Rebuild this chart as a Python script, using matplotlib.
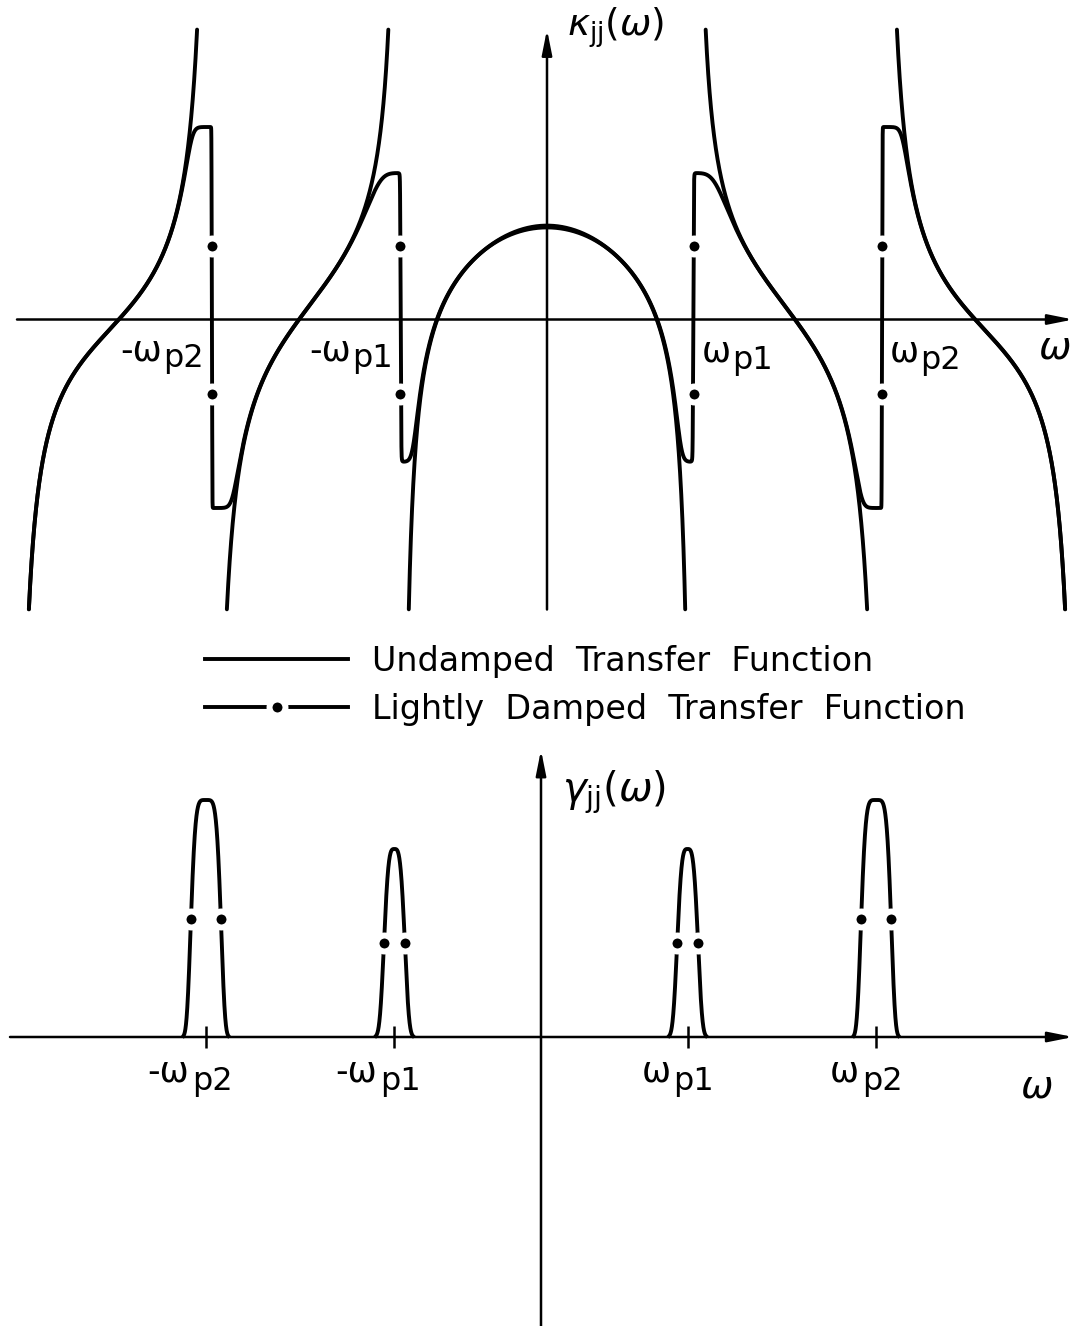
import numpy as np
import matplotlib.pyplot as plt
from matplotlib.lines import Line2D

W, H = 1074, 1326

# undamped transfer function  kappa = c + sum a_k / (w^2 - P_k)
# frequencies in units of omega_p1 (scaled), P_k are squared pole frequencies
w_p = np.array([1.011, 2.311])        # omega_p1, omega_p2
w_out = 3.668                         # next mode, just off the right edge
P_bg = -3.0                           # background term
poles = np.array([P_bg, w_p[0]**2, w_p[1]**2, w_out**2])
res = np.array([7.2637, 0.4104, 1.4112, 2.0007])
c0 = -0.6678

# lightly damped: level of the max / min reached next to each resonance
damp_hi = [1.465, 1.925]
damp_lo = [-1.425, -1.885]
damp_m = [5, 8]
damp_eps = [0.05, 0.11]
dot_level = 0.74

# imaginary part: peak heights, half widths at half height, flatness
peak_h = [1.88, 2.37]
peak_hw = [0.072, 0.103]
peak_n = [3.5, 5.0]

KMAX = 2.9


def soft_clip(v, hi, lo, m):
    out = np.array(v, dtype=float)
    pos = out > 0
    u = out[pos] / hi
    out[pos] = hi * u / (1 + u**m) ** (1 / m)
    neg = out < 0
    u = out[neg] / lo
    out[neg] = lo * u / (1 + u**m) ** (1 / m)
    return out


fig = plt.figure(figsize=(W / 100, H / 100), dpi=100)
ax1 = fig.add_axes([0, 1 - 620 / H, 1, 620 / H])
ax2 = fig.add_axes([0, 0, 1, (H - 740) / H])
ax1.set_xlim(-547 / 145, (W - 547) / 145)
ax1.set_ylim(-3.005, 3.195)
ax2.set_xlim(-541 / 145, (W - 541) / 145)
ax2.set_ylim(-2.89, 2.97)
for ax in (ax1, ax2):
    ax.axis('off')

# ---- real part ----
w = np.linspace(-3.8, 3.8, 80001)
s = w**2
with np.errstate(divide='ignore', invalid='ignore'):
    k_und = c0 + sum(a / (s - q) for a, q in zip(res, poles))
    k_reg = c0 + res[0] / (s - poles[0]) + res[3] / (s - poles[3])
for i in (1, 2):
    x = s - poles[i]
    k_reg = k_reg + res[i] * x / (x**2 + damp_eps[i - 1]**2)

edge1 = 0.5 * (w_p[0] + w_p[1])
edge2 = 0.5 * (w_p[1] + w_out)
k_damp = k_und.copy()
r1 = np.abs(w) < edge1
r2 = (np.abs(w) >= edge1) & (np.abs(w) < edge2)
k_damp[r1] = soft_clip(k_reg[r1], damp_hi[0], damp_lo[0], damp_m[0])
k_damp[r2] = soft_clip(k_reg[r2], damp_hi[1], damp_lo[1], damp_m[1])

beyond = np.abs(w) >= w_out
k_und[~(np.abs(k_und) <= KMAX) | beyond] = np.nan
k_damp[~(np.abs(k_damp) <= KMAX) | beyond] = np.nan

lw = 2.8
dot = dict(ls='none', marker='o', ms=11.5, mfc='black', mec='white', mew=4.3, zorder=5)
ax1.plot(w, k_und, color='black', lw=lw, zorder=2, solid_capstyle='round')
ax1.plot(w, k_damp, color='black', lw=lw, zorder=3, solid_capstyle='round')

for wp in w_p:
    for sgn in (-1, 1):
        ax1.plot([sgn * wp] * 2, [dot_level, -dot_level], **dot)

arrow = dict(arrowstyle='-|>,head_length=1.5,head_width=0.3', lw=1.8, color='black',
             shrinkA=0, shrinkB=0)
x1 = ax1.get_xlim()
ax1.annotate('', xy=(x1[1] - 0.005, 0), xytext=((17 - 547) / 145, 0), arrowprops=arrow)
ax1.annotate('', xy=(0, KMAX), xytext=(0, -KMAX), arrowprops=arrow)
ax1.annotate(r'$\kappa_{\mathrm{jj}}(\omega)$', xy=(0, KMAX), xytext=(20, 2),
             textcoords='offset pixels', ha='left', va='center', fontsize=27)
ax1.annotate(r'$\omega$', xy=(x1[1], 0), xytext=(-20, -28), textcoords='offset pixels',
             ha='center', va='center', fontsize=28)

names = ['p1', 'p2']
for wp, nm in zip(w_p, names):
    m = ax1.annotate('ω', xy=(wp, 0), xytext=(8, -42), textcoords='offset pixels',
                     ha='left', va='baseline', fontsize=25)
    ax1.annotate(nm, xy=(1, 0), xycoords=m, xytext=(1, -7), textcoords='offset pixels',
                 ha='left', va='bottom', fontsize=23)
    sb = ax1.annotate(nm, xy=(-wp, 0), xytext=(-8, -48), textcoords='offset pixels',
                      ha='right', va='baseline', fontsize=23)
    ax1.annotate('-ω', xy=(0, 0), xycoords=sb, xytext=(-1, 7), textcoords='offset pixels',
                 ha='right', va='bottom', fontsize=25)

# ---- imaginary part ----
g = np.zeros_like(w)
for wp, h, hw, n in zip(w_p, peak_h, peak_hw, peak_n):
    for sgn in (-1, 1):
        g += h * 2.0 ** (-(np.abs(w - sgn * wp) / hw) ** n)
g[g < 0.01] = np.nan
ax2.plot(w, g, color='black', lw=lw, zorder=3)
for wp, h, hw in zip(w_p, peak_h, peak_hw):
    for sgn in (-1, 1):
        c = sgn * wp
        ax2.plot([c - hw, c + hw], [h / 2, h / 2], **dot)
        ax2.plot([c], [0], marker='|', ms=16, mew=1.8, color='black', zorder=4)

x2 = ax2.get_xlim()
ax2.annotate('', xy=(x2[1] - 0.005, 0), xytext=((10 - 541) / 145, 0), arrowprops=arrow)
ax2.annotate('', xy=(0, 2.87), xytext=(0, -2.89), arrowprops=arrow)
ax2.annotate(r'$\gamma_{\mathrm{jj}}(\omega)$', xy=(0, 2.87), xytext=(21, -42),
             textcoords='offset pixels', ha='left', va='center', fontsize=29)
ax2.annotate(r'$\omega$', xy=(x2[1], 0), xytext=(-38, -50), textcoords='offset pixels',
             ha='center', va='center', fontsize=28)
for wp, nm in zip(w_p, names):
    for sgn, main in ((-1, '-ω'), (1, 'ω')):
        ax2.annotate(main, xy=(sgn * wp, 0), xytext=(-17, -45), textcoords='offset pixels',
                     ha='right', va='baseline', fontsize=25)
        ax2.annotate(nm, xy=(sgn * wp, 0), xytext=(-14, -53), textcoords='offset pixels',
                     ha='left', va='baseline', fontsize=23)

handles = [Line2D([], [], color='black', lw=lw),
           Line2D([], [], color='black', lw=lw, marker='o', ms=11.5, mfc='black',
                  mec='white', mew=4.3)]
fig.legend(handles, ['Undamped  Transfer  Function', 'Lightly  Damped  Transfer  Function'],
           loc='upper left', bbox_to_anchor=(205 / W, 1 - 645 / H), frameon=False,
           fontsize=24, handlelength=4.3, handletextpad=0.7, labelspacing=0.45,
           borderpad=0, borderaxespad=0, numpoints=1)

fig.savefig('out.png', dpi=100)
